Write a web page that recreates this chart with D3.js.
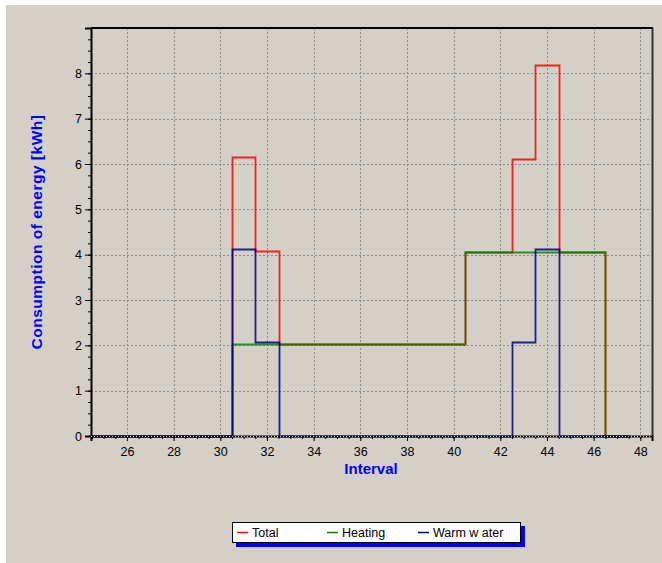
<!DOCTYPE html>
<html><head><meta charset="utf-8">
<script src="https://cdn.jsdelivr.net/npm/d3@7"></script>
<style>body{margin:0;background:#fff}svg{display:block}text{font-family:"Liberation Sans",Arial,sans-serif}</style>
</head><body><svg id="c" width="662" height="563"></svg>
<script>
// Interval start points (each step spans one interval unit, centered on .5 edges)
const edges = [24.5,25.5,26.5,27.5,28.5,29.5,30.5,31.5,32.5,33.5,34.5,35.5,36.5,37.5,38.5,39.5,40.5,41.5,42.5,43.5,44.5,45.5,46.5];
const total   = [0,0,0,0,0,0,6.15,4.08,2.02,2.02,2.02,2.02,2.02,2.02,2.02,2.02,4.05,4.05,6.12,8.18,4.05,4.05,0];
const heating = [0,0,0,0,0,0,2.02,2.02,2.02,2.02,2.02,2.02,2.02,2.02,2.02,2.02,4.05,4.05,4.05,4.05,4.05,4.05,0];
const warm    = [0,0,0,0,0,0,4.13,2.07,0,0,0,0,0,0,0,0,0,0,2.07,4.13,0,0,0];
const xTicks = [26,28,30,32,34,36,38,40,42,44,46,48];
const yTicks = [0,1,2,3,4,5,6,7,8];
const seriesNames = ["Total","Heating","Warm w ater"];
const seriesColors = ["#ff0000","#008000","#000080"];

const svg = d3.select("#c");
svg.append("rect").attr("x",6).attr("y",5).attr("width",656).attr("height",558).attr("fill","#d4d0c8");

const L=91, R=652, T=28, B=436;
const x = d3.scaleLinear().domain([24.46,48.5]).range([L,R]);
const y = d3.scaleLinear().domain([0,9]).range([B,T]);

// grid
const g = svg.append("g");
g.selectAll(".vg").data(xTicks).join("line")
  .attr("x1",d=>Math.round(x(d))+0.5).attr("x2",d=>Math.round(x(d))+0.5).attr("y1",T).attr("y2",B)
  .attr("stroke","#8a8a8a").attr("stroke-dasharray","2,2");
g.selectAll(".hg").data(yTicks.filter(d=>d>0)).join("line")
  .attr("x1",L).attr("x2",R).attr("y1",d=>Math.round(y(d))+0.5).attr("y2",d=>Math.round(y(d))+0.5)
  .attr("stroke","#8a8a8a").attr("stroke-dasharray","2,2");

// step lines
const pts = vals => {
  const p=[];
  vals.forEach((v,i)=>{p.push([edges[i],v]);p.push([edges[i]+1,v]);});
  return p;
};
const line = d3.line().x(d=>Math.round(x(d[0]))+0.5).y(d=>Math.round(y(d[1]))+0.5);
[total,heating,warm].forEach((s,i)=>{
  svg.append("path").attr("d",line(pts(s))).attr("fill","none")
    .attr("stroke",seriesColors[i]).attr("stroke-width",1.8)
    .attr("stroke-opacity",i===1?0.8:0.85);
});

// frame
svg.append("line").attr("x1",L).attr("x2",R+1).attr("y1",T).attr("y2",T).attr("stroke","#000").attr("stroke-width",2);
svg.append("line").attr("x1",R+0.5).attr("x2",R+0.5).attr("y1",T).attr("y2",B).attr("stroke","#333").attr("stroke-width",2);

// axes
const yAxis = d3.axisLeft(y).tickValues(yTicks).tickSize(6).tickPadding(3);
const ya = svg.append("g").attr("transform",`translate(${L},0)`).call(yAxis);
ya.select(".domain").attr("stroke","#000").attr("stroke-width",2);
ya.selectAll("text").attr("font-size",12.5).attr("fill","#000").attr("font-family","Liberation Sans, Arial");
const yMinor = d3.axisLeft(y).tickValues(d3.range(0,9.01,0.25)).tickSize(3).tickFormat("");
svg.append("g").attr("transform",`translate(${L},0)`).call(yMinor).select(".domain").remove();

const xAxis = d3.axisBottom(x).tickValues(xTicks).tickSize(5).tickPadding(6);
const xa = svg.append("g").attr("transform",`translate(0,${B})`).call(xAxis);
xa.select(".domain").attr("stroke","#000").attr("stroke-width",2);
xa.selectAll("text").attr("font-size",12.5).attr("fill","#000").attr("font-family","Liberation Sans, Arial");
const xMinor = d3.axisBottom(x).tickValues(d3.range(24.5,48.51,0.5)).tickSize(3).tickFormat("");
svg.append("g").attr("transform",`translate(0,${B})`).call(xMinor).select(".domain").remove();
svg.append("line").attr("x1",L).attr("x2",R).attr("y1",B+0.5).attr("y2",B+0.5)
  .attr("stroke","#ddd").attr("stroke-dasharray","1,2");

// titles
svg.append("text").attr("x",371).attr("y",474).attr("text-anchor","middle")
  .attr("font-size",15).attr("font-weight","bold").attr("fill","#0000ff").text("Interval");
svg.append("text").attr("transform","translate(42,232) rotate(-90)").attr("text-anchor","middle")
  .attr("font-size",15.5).attr("font-weight","bold").attr("fill","#0000ff").attr("letter-spacing",0.5).text("Consumption of energy [kWh]");

// legend
const lg = svg.append("g");
lg.append("rect").attr("x",236).attr("y",526).attr("width",289).attr("height",21).attr("fill","#0000ff");
lg.append("rect").attr("x",232.5).attr("y",522.5).attr("width",288).attr("height",20).attr("fill","#fff").attr("stroke","#000");
const lx = [237,327,418];
seriesNames.forEach((n,i)=>{
  lg.append("line").attr("x1",lx[i]).attr("x2",lx[i]+11).attr("y1",532.5).attr("y2",532.5).attr("stroke",seriesColors[i]).attr("stroke-width",1.5);
  lg.append("text").attr("x",lx[i]+15).attr("y",537).attr("font-size",12.5).attr("fill","#000").text(n);
});
</script></body></html>
